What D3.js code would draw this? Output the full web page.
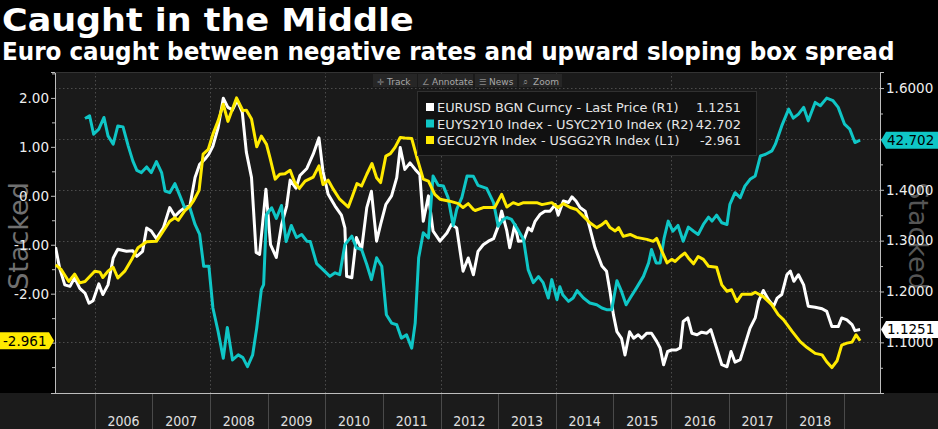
<!DOCTYPE html>
<html><head><meta charset="utf-8">
<script src="https://cdn.jsdelivr.net/npm/d3@7"></script>
<style>html,body{margin:0;padding:0;background:#000;overflow:hidden}</style>
</head><body>
<svg id="c" width="938" height="429"></svg>
<script>
// ---------- DATA ----------
const titleText = "Caught in the Middle";
const subtitleText = "Euro caught between negative rates and upward sloping box spread";
const yearLabels = [2006,2007,2008,2009,2010,2011,2012,2013,2014,2015,2016,2017,2018];
const yearBoundaries = [2006,2007,2008,2009,2010,2011,2012,2013,2014,2015,2016,2017,2018,2019];
const gridYears = [2006,2008,2010,2012,2014,2016,2018];
const leftTicks = [2,1,0,-1,-2,-3];
const leftLabelled = [2,1,0,-1,-2];
const leftMinor = [2.5,1.5,0.5,-0.5,-1.5,-2.5,-3.5];
const rightTicks = [1.6,1.5,1.4,1.3,1.2,1.1];
const rightLabelled = [1.6,1.4,1.3,1.2,1.1];
const rightMinor = [1.55,1.45,1.35,1.25,1.15,1.05];
const legendNames = ["EURUSD BGN Curncy - Last Price (R1)","EUYS2Y10 Index - USYC2Y10 Index (R2)","GECU2YR Index - USGG2YR Index (L1)"];
const legendValues = ["1.1251","42.702","-2.961"];
const toolbarItems = ["Track","Annotate","News","Zoom"];

// EURUSD (R1)
const eurusdDates = [2005.32,2005.39,2005.48,2005.57,2005.65,2005.74,2005.83,2005.90,2005.97,2006.07,2006.14,2006.23,2006.32,2006.40,2006.55,2006.66,2006.73,2006.83,2006.90,2006.98,2007.07,2007.19,2007.30,2007.39,2007.48,2007.56,2007.65,2007.74,2007.82,2007.91,2007.98,2008.05,2008.14,2008.23,2008.31,2008.39,2008.47,2008.56,2008.63,2008.72,2008.80,2008.86,2008.97,2009.05,2009.15,2009.24,2009.33,2009.39,2009.49,2009.56,2009.68,2009.79,2009.89,2009.96,2010.05,2010.17,2010.28,2010.34,2010.37,2010.46,2010.54,2010.63,2010.72,2010.80,2010.89,2010.96,2011.05,2011.15,2011.24,2011.30,2011.38,2011.47,2011.56,2011.64,2011.70,2011.79,2011.87,2011.99,2012.11,2012.19,2012.28,2012.39,2012.48,2012.57,2012.65,2012.74,2012.83,2012.92,2013.00,2013.06,2013.15,2013.20,2013.29,2013.35,2013.44,2013.52,2013.58,2013.64,2013.73,2013.81,2013.90,2013.99,2014.04,2014.13,2014.22,2014.28,2014.35,2014.42,2014.51,2014.59,2014.68,2014.80,2014.88,2014.94,2015.00,2015.06,2015.14,2015.20,2015.28,2015.35,2015.43,2015.49,2015.58,2015.66,2015.75,2015.81,2015.87,2015.94,2016.01,2016.09,2016.16,2016.21,2016.29,2016.36,2016.45,2016.53,2016.62,2016.69,2016.79,2016.88,2016.97,2017.04,2017.11,2017.20,2017.28,2017.37,2017.46,2017.52,2017.60,2017.69,2017.78,2017.84,2017.92,2018.01,2018.07,2018.13,2018.21,2018.30,2018.38,2018.50,2018.62,2018.70,2018.79,2018.90,2018.96,2019.05,2019.14,2019.19,2019.28];
const eurusdValues = [1.287,1.246,1.213,1.210,1.227,1.206,1.197,1.177,1.182,1.215,1.194,1.213,1.266,1.283,1.279,1.280,1.269,1.279,1.325,1.319,1.304,1.325,1.365,1.348,1.358,1.365,1.368,1.424,1.450,1.460,1.470,1.486,1.522,1.580,1.562,1.557,1.576,1.552,1.474,1.424,1.277,1.273,1.401,1.292,1.267,1.331,1.368,1.419,1.403,1.428,1.442,1.470,1.502,1.436,1.391,1.368,1.350,1.325,1.230,1.227,1.306,1.283,1.365,1.397,1.299,1.332,1.371,1.388,1.424,1.483,1.440,1.453,1.440,1.430,1.338,1.388,1.319,1.299,1.315,1.332,1.325,1.240,1.266,1.233,1.279,1.292,1.299,1.304,1.328,1.358,1.319,1.286,1.332,1.299,1.300,1.325,1.319,1.338,1.352,1.358,1.358,1.371,1.350,1.378,1.375,1.386,1.378,1.365,1.358,1.325,1.286,1.250,1.240,1.200,1.154,1.121,1.108,1.075,1.121,1.108,1.115,1.108,1.118,1.118,1.102,1.089,1.056,1.082,1.085,1.085,1.089,1.141,1.148,1.118,1.115,1.120,1.118,1.125,1.089,1.056,1.052,1.082,1.061,1.066,1.095,1.128,1.148,1.181,1.202,1.184,1.171,1.187,1.194,1.233,1.240,1.220,1.233,1.213,1.171,1.169,1.166,1.161,1.131,1.131,1.148,1.144,1.135,1.123,1.1251];

// EUYS2Y10 - USYC2Y10 (R2, bp)
const spreadDates = [2005.83,2005.91,2005.98,2006.07,2006.16,2006.23,2006.32,2006.40,2006.49,2006.58,2006.66,2006.73,2006.81,2006.90,2006.98,2007.07,2007.16,2007.22,2007.30,2007.39,2007.48,2007.56,2007.65,2007.74,2007.82,2007.89,2007.98,2008.05,2008.14,2008.23,2008.30,2008.39,2008.49,2008.57,2008.65,2008.74,2008.81,2008.89,2008.93,2008.98,2009.07,2009.15,2009.24,2009.32,2009.41,2009.50,2009.59,2009.68,2009.74,2009.85,2009.96,2010.08,2010.17,2010.25,2010.34,2010.46,2010.54,2010.63,2010.72,2010.80,2010.89,2010.98,2011.06,2011.15,2011.24,2011.32,2011.41,2011.50,2011.56,2011.62,2011.70,2011.79,2011.87,2011.96,2012.05,2012.13,2012.22,2012.28,2012.37,2012.46,2012.57,2012.65,2012.80,2012.92,2013.00,2013.09,2013.15,2013.23,2013.32,2013.44,2013.52,2013.61,2013.70,2013.78,2013.87,2013.93,2014.02,2014.07,2014.12,2014.22,2014.30,2014.37,2014.48,2014.59,2014.71,2014.80,2014.88,2014.97,2015.06,2015.14,2015.22,2015.29,2015.40,2015.52,2015.61,2015.66,2015.74,2015.81,2015.88,2015.95,2016.03,2016.12,2016.21,2016.30,2016.39,2016.47,2016.56,2016.65,2016.71,2016.79,2016.88,2016.97,2017.02,2017.11,2017.20,2017.28,2017.37,2017.46,2017.55,2017.64,2017.75,2017.81,2017.92,2018.04,2018.12,2018.21,2018.30,2018.38,2018.50,2018.59,2018.70,2018.81,2018.90,2019.01,2019.10,2019.19,2019.28];
const spreadValues = [60.8,63.0,47.7,51.9,61.6,46.3,39.4,54.6,53.8,38.0,25.5,17.7,15.8,20.5,15.8,25.0,15.8,0.5,-0.9,6.6,-3.7,-13.4,-13.4,-27.3,-35.6,-62.0,-62.0,-96.7,-116.2,-138.4,-112.9,-139.8,-135.6,-137.9,-145.4,-135.6,-113.4,-81.5,-77.3,-19.0,-13.4,-22.3,-11.5,-41.5,-28.1,-38.1,-35.6,-41.2,-41.5,-59.8,-64.8,-70.4,-67.5,-69.0,-44.0,-37.0,-46.7,-48.1,-60.6,-73.1,-55.0,-62.0,-102.3,-109.2,-110.6,-121.7,-119.0,-130.0,-109.2,-55.0,-34.2,-38.4,13.0,5.2,4.6,-5.0,-28.1,-14.8,-4.8,13.0,12.7,5.2,2.7,-9.2,-28.7,-23.1,-21.5,-23.1,-29.8,-39.8,-64.8,-75.6,-70.6,-75.6,-88.4,-73.1,-89.8,-79.0,-85.6,-91.2,-88.4,-82.3,-88.4,-92.5,-94.0,-96.7,-98.1,-98.1,-74.0,-82.9,-94.0,-88.4,-80.0,-70.4,-59.2,-48.1,-59.2,-59.2,-38.4,-24.5,-32.9,-28.1,-41.2,-29.5,-32.9,-35.6,-27.3,-21.2,-24.5,-19.5,-25.9,-27.3,-10.6,-0.9,-5.0,4.6,10.2,13.0,29.6,31.0,33.8,39.4,54.6,68.5,61.0,64.4,70.0,58.8,74.1,71.3,77.7,75.5,70.0,56.0,51.9,40.8,42.702];

// GECU2YR - USGG2YR (L1, %)
const rateDates = [2005.32,2005.42,2005.55,2005.65,2005.74,2005.83,2006.00,2006.09,2006.14,2006.23,2006.32,2006.40,2006.52,2006.64,2006.75,2006.90,2007.07,2007.19,2007.30,2007.39,2007.45,2007.56,2007.65,2007.71,2007.81,2007.88,2007.97,2008.05,2008.14,2008.23,2008.31,2008.46,2008.57,2008.63,2008.72,2008.81,2008.89,2008.98,2009.04,2009.13,2009.21,2009.30,2009.39,2009.47,2009.55,2009.65,2009.79,2009.89,2009.96,2010.05,2010.14,2010.25,2010.40,2010.47,2010.55,2010.63,2010.72,2010.81,2010.89,2010.96,2011.05,2011.13,2011.21,2011.30,2011.38,2011.50,2011.59,2011.70,2011.79,2011.90,2011.99,2012.16,2012.31,2012.39,2012.48,2012.57,2012.60,2012.74,2012.94,2013.06,2013.15,2013.26,2013.35,2013.44,2013.67,2013.76,2013.93,2014.04,2014.13,2014.25,2014.36,2014.48,2014.59,2014.71,2014.80,2014.87,2014.94,2015.03,2015.09,2015.17,2015.29,2015.40,2015.58,2015.69,2015.75,2015.84,2015.93,2016.01,2016.07,2016.16,2016.24,2016.30,2016.39,2016.47,2016.56,2016.65,2016.79,2016.88,2016.97,2017.05,2017.14,2017.23,2017.40,2017.46,2017.60,2017.75,2017.86,2017.95,2018.10,2018.24,2018.36,2018.50,2018.62,2018.70,2018.79,2018.88,2018.96,2019.05,2019.14,2019.21,2019.28];
const rateValues = [-1.41,-1.51,-1.75,-1.60,-1.78,-1.75,-1.54,-1.56,-1.67,-1.54,-1.46,-1.68,-1.54,-1.30,-1.06,-0.94,-0.93,-0.72,-0.52,-0.45,-0.50,-0.31,-0.21,-0.11,0.11,0.85,0.95,1.26,1.53,1.87,1.52,2.00,1.74,1.75,1.57,1.00,1.22,1.05,0.78,0.34,0.44,0.45,0.52,0.27,0.15,0.30,0.38,0.61,0.23,0.32,0.13,-0.07,-0.23,-0.01,0.25,0.20,0.44,0.66,0.37,0.27,0.81,0.86,0.99,1.19,1.18,1.17,0.78,0.34,0.30,0.03,-0.07,-0.11,-0.16,-0.24,-0.16,-0.28,-0.30,-0.24,-0.24,0.03,-0.23,-0.14,-0.18,-0.14,-0.14,-0.18,-0.14,-0.24,-0.16,-0.24,-0.28,-0.42,-0.55,-0.65,-0.59,-0.52,-0.65,-0.72,-0.65,-0.83,-0.79,-0.85,-0.89,-0.93,-0.87,-1.13,-1.37,-1.30,-1.34,-1.24,-1.17,-1.27,-1.39,-1.24,-1.30,-1.44,-1.46,-1.82,-1.95,-1.92,-2.16,-2.01,-2.01,-1.97,-2.06,-2.23,-2.43,-2.53,-2.77,-2.98,-3.10,-3.22,-3.25,-3.39,-3.51,-3.37,-3.05,-3.01,-2.99,-2.84,-2.961];

// ---------- LAYOUT ----------
const W = 938, H = 429;
const L = 55, R = 880, T = 72, B = 393;
const colWhite = "#ffffff", colCyan = "#0fc6c6", colYellow = "#ffea00";

const svg = d3.select("#c");
svg.append("rect").attr("width", W).attr("height", H).attr("fill", "#000");

const x = d3.scaleLinear().domain([2005.31, 2019.625]).range([L, R]);
const yL = d3.scaleLinear().domain([-4.029, 2.529]).range([B, T]);
const yR1 = d3.scaleLinear().domain([1.0004, 1.6316]).range([B, T]);
const yR2 = d3.scaleLinear().domain([-167.3, 99.37]).range([B, T]);

function fitText(sel, width) {
  const fs = parseFloat(sel.attr("font-size"));
  const w = sel.node().getComputedTextLength();
  sel.attr("font-size", (fs * width / w).toFixed(2));
}
function stretchText(sel, x0, width) {
  const w = sel.node().getComputedTextLength();
  sel.attr("transform", `translate(${x0},0) scale(${width / w},1) translate(${-x0},0)`);
}

// Title / subtitle
const t1 = svg.append("text").attr("x", 2).attr("y", 31).attr("fill", "#fff")
  .attr("font-family", "'DejaVu Sans Condensed','DejaVu Sans',sans-serif").attr("font-weight", "bold")
  .attr("font-size", 32).text(titleText);
stretchText(t1, 2, 412);
const t2 = svg.append("text").attr("x", 2).attr("y", 60).attr("fill", "#fff")
  .attr("font-family", "'DejaVu Sans Condensed','DejaVu Sans',sans-serif").attr("font-weight", "bold")
  .attr("font-size", 24).text(subtitleText);
stretchText(t2, 2, 893);

// Plot background
svg.append("rect").attr("x", L).attr("y", T).attr("width", R - L).attr("height", B - T).attr("fill", "#1a1a1a");

// Bottom year band
svg.append("rect").attr("x", 0).attr("y", B).attr("width", W).attr("height", H - B).attr("fill", "#1b1b1b");
svg.append("g").selectAll("line").data(yearBoundaries).join("line")
  .attr("x1", d => Math.round(x(d)) + 0.5).attr("x2", d => Math.round(x(d)) + 0.5).attr("y1", B).attr("y2", H)
  .attr("stroke", "#4a4a4a").attr("stroke-width", 1);
svg.append("g").selectAll("text").data(yearLabels).join("text")
  .attr("x", d => x(d + 0.5)).attr("y", 426).attr("text-anchor", "middle")
  .attr("fill", "#e0e0e0").attr("font-family", "'DejaVu Sans Condensed','DejaVu Sans',sans-serif")
  .attr("font-size", 14).text(d => d);

// Grid
const grid = svg.append("g").attr("stroke", "#4c4c4c").attr("stroke-dasharray", "1.5,2.5").attr("stroke-width", 1);
grid.selectAll(".h").data(rightTicks).join("line").attr("class", "h")
  .attr("x1", L).attr("x2", R).attr("y1", d => Math.round(yR1(d)) + 0.5).attr("y2", d => Math.round(yR1(d)) + 0.5);
grid.selectAll(".v").data(gridYears).join("line").attr("class", "v")
  .attr("x1", d => Math.round(x(d)) + 0.5).attr("x2", d => Math.round(x(d)) + 0.5).attr("y1", T).attr("y2", B);

// "Stacked" watermark labels
svg.append("text").attr("transform", `translate(28,236) rotate(-90)`).attr("text-anchor", "middle")
  .attr("fill", "#707070").attr("font-family", "'DejaVu Sans',sans-serif").attr("font-size", 27).text("Stacked");
svg.append("text").attr("transform", `translate(909,236) rotate(90)`).attr("text-anchor", "middle")
  .attr("fill", "#555").attr("font-family", "'DejaVu Sans',sans-serif").attr("font-size", 27).text("Stacked");

// Axes
function styleAxis(g) {
  g.select(".domain").attr("stroke", "#bdbdbd");
  g.selectAll(".tick line").attr("stroke", "#bdbdbd");
  g.selectAll(".tick text").attr("fill", "#eeeeee").attr("font-family", "'DejaVu Sans',sans-serif").attr("font-size", 13.5);
}
const gl = svg.append("g").attr("transform", `translate(${L},0)`)
  .call(d3.axisLeft(yL).tickValues(leftTicks).tickFormat(d => leftLabelled.includes(d) ? d.toFixed(2) : "").tickSizeOuter(0).tickSize(4).tickPadding(2));
styleAxis(gl);
const glm = svg.append("g").attr("transform", `translate(${L},0)`)
  .call(d3.axisLeft(yL).tickValues(leftMinor).tickFormat("").tickSizeOuter(0).tickSize(3));
styleAxis(glm);
const gr = svg.append("g").attr("transform", `translate(${R},0)`)
  .call(d3.axisRight(yR1).tickValues(rightTicks).tickFormat(d => rightLabelled.includes(d) ? d.toFixed(4) : "").tickSizeOuter(0).tickSize(4).tickPadding(2));
styleAxis(gr);
const grm = svg.append("g").attr("transform", `translate(${R},0)`)
  .call(d3.axisRight(yR1).tickValues(rightMinor).tickFormat("").tickSizeOuter(0).tickSize(3));
styleAxis(grm);
svg.append("line").attr("x1", L - 3).attr("x2", R + 2).attr("y1", B + 0.5).attr("y2", B + 0.5).attr("stroke", "#bdbdbd");
svg.append("line").attr("x1", L).attr("x2", R).attr("y1", T + 0.5).attr("y2", T + 0.5).attr("stroke", "#333");

// Series
const zip = (a, b) => a.map((d, i) => [d, b[i]]);
svg.append("clipPath").attr("id", "pc").append("rect").attr("x", L).attr("y", T).attr("width", R - L).attr("height", B - T);
const lines = svg.append("g").attr("clip-path", "url(#pc)").attr("fill", "none").attr("stroke-width", 3).attr("stroke-linejoin", "round");
lines.append("path").datum(zip(eurusdDates, eurusdValues)).attr("stroke", colWhite)
  .attr("d", d3.line().x(d => x(d[0])).y(d => yR1(d[1])));
lines.append("path").datum(zip(spreadDates, spreadValues)).attr("stroke", colCyan)
  .attr("d", d3.line().x(d => x(d[0])).y(d => yR2(d[1])));
lines.append("path").datum(zip(rateDates, rateValues)).attr("stroke", colYellow)
  .attr("d", d3.line().x(d => x(d[0])).y(d => yL(d[1])));

// Toolbar
const tb = svg.append("g");
const tbX = [373, 418, 475, 519], tbW = [44, 55, 42, 43];
const icons = ["\u271B", "\u2220", "\u2630", "\u2315"];
toolbarItems.forEach((name, i) => {
  tb.append("rect").attr("x", tbX[i]).attr("y", 74).attr("width", tbW[i]).attr("height", 13).attr("fill", "#262626");
  tb.append("text").attr("x", tbX[i] + 4).attr("y", 84.5).attr("fill", "#8a8a8a")
    .attr("font-family", "'DejaVu Sans',sans-serif").attr("font-size", 8.5).text(icons[i]);
  tb.append("text").attr("x", tbX[i] + 14).attr("y", 84.5).attr("fill", "#a8a8a8")
    .attr("font-family", "'DejaVu Sans',sans-serif").attr("font-size", 9).text(name);
});

// Legend
const lg = svg.append("g");
lg.append("rect").attr("x", 417.5).attr("y", 91.5).attr("width", 339).attr("height", 64)
  .attr("fill", "#111").attr("stroke", "#303030");
const legCols = [colWhite, colCyan, colYellow];
const legW = [241.7, 256.7, 242.7];
legendNames.forEach((n, i) => {
  const cy = 107.5 + i * 16.5;
  lg.append("rect").attr("x", 426).attr("y", cy - 4.5).attr("width", 8).attr("height", 8).attr("fill", legCols[i]);
  const t = lg.append("text").attr("x", 437).attr("y", cy + 4.5).attr("fill", "#e6e6e6")
    .attr("font-family", "'DejaVu Sans',sans-serif").attr("font-size", 13).text(n);
  fitText(t, legW[i]);
  lg.append("text").attr("x", 741).attr("y", cy + 4.5).attr("text-anchor", "end").attr("fill", "#e6e6e6")
    .attr("font-family", "'DejaVu Sans',sans-serif").attr("font-size", t.attr("font-size")).text(legendValues[i]);
});

// Value tags
function rightTag(yv, fill, label) {
  const h = 8.5;
  svg.append("path").attr("d", `M${R + 1},${yv} L${R + 6},${yv - h} L${W},${yv - h} L${W},${yv + h} L${R + 6},${yv + h} Z`).attr("fill", fill);
  svg.append("text").attr("x", R + 7).attr("y", yv + 4.8).attr("fill", "#000")
    .attr("font-family", "'DejaVu Sans',sans-serif").attr("font-size", 13.5).text(label);
}
rightTag(yR2(spreadValues[spreadValues.length - 1]), colCyan, legendValues[1]);
rightTag(yR1(eurusdValues[eurusdValues.length - 1]), "#ffffff", legendValues[0]);
(function(){
  const yv = yL(rateValues[rateValues.length - 1]), h = 8.5;
  svg.append("path").attr("d", `M0,${yv - h} L${L - 6},${yv - h} L${L - 1},${yv} L${L - 6},${yv + h} L0,${yv + h} Z`).attr("fill", colYellow);
  svg.append("text").attr("x", 3).attr("y", yv + 4.8).attr("fill", "#000")
    .attr("font-family", "'DejaVu Sans',sans-serif").attr("font-size", 13.5).text(legendValues[2]);
})();
</script>
</body></html>
